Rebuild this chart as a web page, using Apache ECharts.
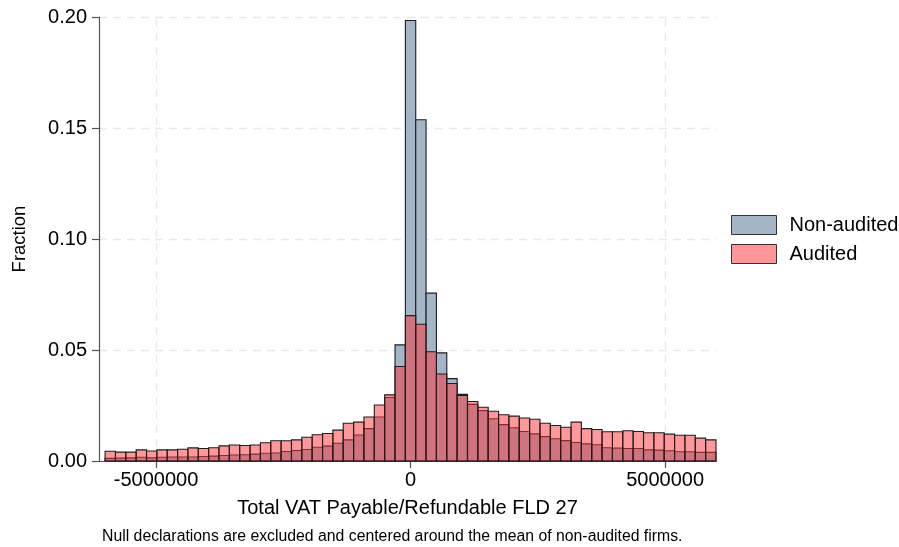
<!DOCTYPE html>
<html>
<head>
<meta charset="utf-8">
<script src="https://cdn.jsdelivr.net/npm/echarts@6/dist/echarts.min.js"></script>
<style>
  html, body { margin: 0; padding: 0; background: #fff; }
  #chart { width: 899px; height: 547px; }
</style>
</head>
<body>
<div id="chart"></div>
<script>
// histogram bins: 59 bins from -6,000,000 to 6,000,000
var binStart = -6000000;
var binWidth = 12000000 / 59;

// fraction per bin
var nonAudited = [
  0.0012, 0.0013, 0.0014, 0.0017, 0.0014, 0.0017, 0.0018, 0.0018, 0.0018, 0.0020,
  0.0022, 0.0025, 0.0027, 0.0028, 0.0031, 0.0035, 0.0036, 0.0043, 0.0047, 0.0052,
  0.0062, 0.0067, 0.0080, 0.0095, 0.0117, 0.0146, 0.0198, 0.0286, 0.0523, 0.1984,
  0.1537, 0.0756, 0.0487, 0.0371, 0.0300, 0.0255, 0.0227, 0.0190, 0.0164, 0.0150,
  0.0133, 0.0122, 0.0110, 0.0100, 0.0092, 0.0083, 0.0077, 0.0073, 0.0060, 0.0058,
  0.0056, 0.0056, 0.0050, 0.0049, 0.0046, 0.0042, 0.0042, 0.0039, 0.0039
];
var audited = [
  0.0044, 0.0040, 0.0040, 0.0050, 0.0045, 0.0050, 0.0050, 0.0053, 0.0059, 0.0056,
  0.0060, 0.0068, 0.0072, 0.0070, 0.0072, 0.0082, 0.0091, 0.0091, 0.0095, 0.0107,
  0.0118, 0.0124, 0.0139, 0.0170, 0.0175, 0.0198, 0.0252, 0.0298, 0.0426, 0.0655,
  0.0616, 0.0492, 0.0392, 0.0349, 0.0295, 0.0268, 0.0242, 0.0224, 0.0208, 0.0202,
  0.0194, 0.0188, 0.0170, 0.0160, 0.0152, 0.0175, 0.0146, 0.0142, 0.0132, 0.0132,
  0.0136, 0.0133, 0.0127, 0.0127, 0.0121, 0.0116, 0.0116, 0.0103, 0.0095
];
var xTicks = [-5000000, 0, 5000000];
var seriesNames = ["Non-audited", "Audited"];

var fontFam = "'Liberation Sans', Arial, Helvetica, sans-serif";
var blueFill = "#a3b5c7";
var pinkFill = "rgba(255, 50, 55, 0.5)";
var edge = "#1e1e1e";
var gridLine = { color: "#e9e9e9", type: [8, 6], width: 1.3 };

function toBins(vals) {
  return vals.map(function (v, i) {
    return [binStart + i * binWidth, binStart + (i + 1) * binWidth, v];
  });
}

function renderBar(fill) {
  return function (params, api) {
    var p0 = api.coord([api.value(0), api.value(2)]);
    var p1 = api.coord([api.value(1), 0]);
    return {
      type: "rect",
      shape: { x: p0[0], y: p0[1], width: p1[0] - p0[0], height: p1[1] - p0[1] },
      style: { fill: fill, stroke: edge, lineWidth: 1.1 }
    };
  };
}

var myChart = echarts.init(document.getElementById("chart"));
myChart.setOption({
  animation: false,
  textStyle: { fontFamily: fontFam },
  title: {
    text: "Null declarations are excluded and centered around the mean of non-audited firms.",
    left: 97,
    top: 524,
    textStyle: { fontSize: 15.8, fontWeight: "normal", color: "#000", fontFamily: fontFam }
  },
  legend: {
    orient: "vertical",
    left: 726,
    top: 210,
    itemWidth: 45,
    itemHeight: 19,
    itemGap: 9,
    selectedMode: false,
    textStyle: { fontSize: 20, color: "#000", fontFamily: fontFam, padding: [0, 0, 0, 8] },
    data: [
      { name: seriesNames[0], icon: "rect", itemStyle: { color: blueFill, borderColor: "#333", borderWidth: 1 } },
      { name: seriesNames[1], icon: "rect", itemStyle: { color: "#ff9799", borderColor: "#333", borderWidth: 1 } }
    ]
  },
  grid: { left: 99, right: 183, top: 17, bottom: 86, outerBoundsMode: "none" },
  xAxis: {
    type: "value",
    min: -6120000,
    max: 6000000,
    name: "Total VAT Payable/Refundable FLD 27",
    nameLocation: "middle",
    nameGap: 37,
    nameTextStyle: { fontSize: 20, color: "#000", fontFamily: fontFam },
    axisLine: { show: true, onZero: false, lineStyle: { color: "#555", width: 1.2 } },
    axisTick: { show: true, length: 7, customValues: xTicks, lineStyle: { color: "#555", width: 1.2 } },
    axisLabel: {
      customValues: xTicks,
      margin: 9,
      fontSize: 20,
      color: "#000",
      fontFamily: fontFam,
      formatter: function (v) { return String(v); }
    },
    splitLine: { show: false }
  },
  yAxis: {
    type: "value",
    min: 0,
    max: 0.2,
    interval: 0.05,
    name: "Fraction",
    nameLocation: "middle",
    nameGap: 70,
    nameTextStyle: { fontSize: 18.5, color: "#000", fontFamily: fontFam },
    axisLine: { show: true, onZero: false, lineStyle: { color: "#555", width: 1.2 } },
    axisTick: { show: true, length: 7, lineStyle: { color: "#555", width: 1.2 } },
    axisLabel: {
      margin: 12,
      fontSize: 20,
      color: "#000",
      fontFamily: fontFam,
      formatter: function (v) { return v.toFixed(2); }
    },
    splitLine: { show: true, lineStyle: gridLine }
  },
  series: [
    {
      name: "grid",
      type: "line",
      data: [],
      z: 1,
      silent: true,
      markLine: {
        z: 1,
        symbol: "none",
        silent: true,
        label: { show: false },
        lineStyle: gridLine,
        data: xTicks.map(function (t) { return { xAxis: t }; })
      }
    },
    {
      name: seriesNames[0],
      type: "custom",
      z: 2,
      renderItem: renderBar(blueFill),
      itemStyle: { color: blueFill },
      encode: { x: [0, 1], y: 2 },
      data: toBins(nonAudited)
    },
    {
      name: seriesNames[1],
      type: "custom",
      z: 3,
      renderItem: renderBar(pinkFill),
      itemStyle: { color: "#ff9799" },
      encode: { x: [0, 1], y: 2 },
      data: toBins(audited)
    }
  ]
});
</script>
</body>
</html>
